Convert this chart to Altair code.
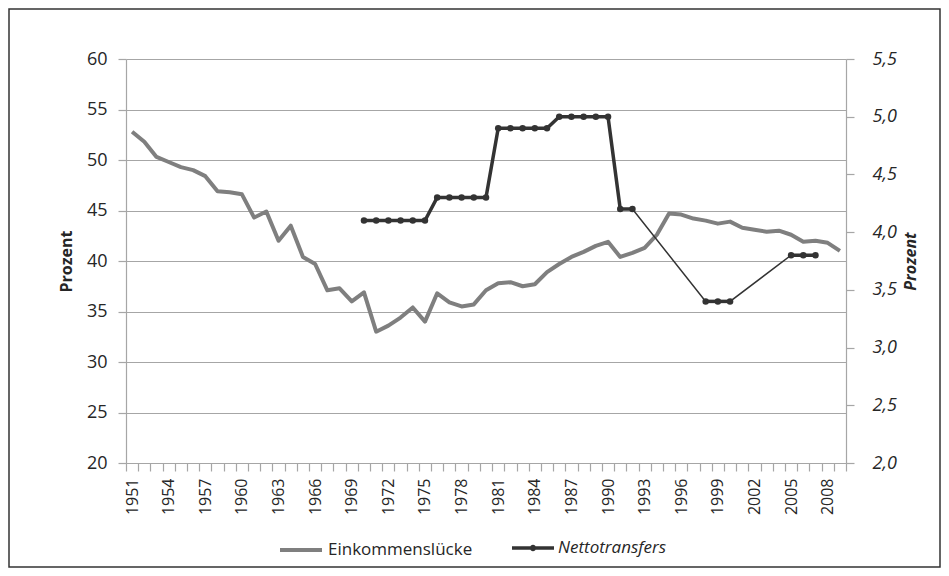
import altair as alt
import pandas as pd

# ---- data -------------------------------------------------------------
years = list(range(1951, 2010))

einkommen = [
    52.8, 51.8, 50.3, 49.8, 49.3, 49.0, 48.4, 46.9, 46.8, 46.6,   # 1951-1960
    44.3, 44.9, 42.0, 43.5, 40.4, 39.7, 37.1, 37.3, 36.0, 36.9,   # 1961-1970
    33.0, 33.6, 34.4, 35.4, 34.0, 36.8, 35.9, 35.5, 35.7, 37.1,   # 1971-1980
    37.8, 37.9, 37.5, 37.7, 38.9, 39.7, 40.4, 40.9, 41.5, 41.9,   # 1981-1990
    40.4, 40.8, 41.3, 42.6, 44.7, 44.6, 44.2, 44.0, 43.7, 43.9,   # 1991-2000
    43.3, 43.1, 42.9, 43.0, 42.6, 41.9, 42.0, 41.8, 41.0,         # 2001-2009
]

netto_years = [1970, 1971, 1972, 1973, 1974, 1975,
               1976, 1977, 1978, 1979, 1980,
               1981, 1982, 1983, 1984, 1985,
               1986, 1987, 1988, 1989, 1990,
               1991, 1992,
               1998, 1999, 2000,
               2005, 2006, 2007]
netto_values = [4.1, 4.1, 4.1, 4.1, 4.1, 4.1,
                4.3, 4.3, 4.3, 4.3, 4.3,
                4.9, 4.9, 4.9, 4.9, 4.9,
                5.0, 5.0, 5.0, 5.0, 5.0,
                4.2, 4.2,
                3.4, 3.4, 3.4,
                3.8, 3.8, 3.8]
netto_segment = [1] * 23 + [2] * 3 + [3] * 3

left_ticks = [20, 25, 30, 35, 40, 45, 50, 55, 60]
right_ticks = [2.0, 2.5, 3.0, 3.5, 4.0, 4.5, 5.0, 5.5]

series_names = ["Einkommenslücke", "Nettotransfers"]

df_e = pd.DataFrame({"Jahr": years, "Wert": einkommen, "Reihe": series_names[0]})
df_n = pd.DataFrame({"Jahr": netto_years, "Wert": netto_values,
                     "Segment": netto_segment, "Reihe": series_names[1]})

FONT = "Open Sans"
AXIS_GREY = "#a6a6a6"
TEXT = "#262626"
GREY = "#7f7f7f"
DARK = "#333333"

W, H = 720, 404
PAD = {"left": 118, "top": 51, "right": 95, "bottom": 105}

x_enc = alt.X(
    "Jahr:O",
    scale=alt.Scale(type="band", domain=years, paddingInner=0, paddingOuter=0),
    bandPosition=0.5,
    axis=alt.Axis(
        title=None,
        labelAngle=270,
        labelExpr="(datum.value - 1951) % 3 == 0 ? datum.label : ''",
        labelOverlap=False,
        tickBand="extent",
        tickSize=8,
        labelPadding=7,
        labelFontSize=16,
        grid=False,
    ),
)

y_left = alt.Y(
    "Wert:Q",
    scale=alt.Scale(domain=[20, 60], nice=False, zero=False),
    axis=alt.Axis(
        title="Prozent",
        values=left_ticks,
        grid=True,
        gridColor=AXIS_GREY,
        tickSize=8,
        labelPadding=11,
        labelFontSize=18,
        titleFontSize=16,
        titleFontWeight="bold",
        titlePadding=12,
    ),
)

right_scale = alt.Scale(domain=[2, 5.5], nice=False, zero=False)

y_right_axis = alt.Y(
    "Wert:Q",
    scale=right_scale,
    axis=alt.Axis(
        orient="right",
        title="Prozent",
        values=right_ticks,
        labelExpr="replace(format(datum.value, '.1f'), '.', ',')",
        grid=False,
        tickSize=8,
        labelPadding=18,
        labelFontSize=18,
        labelFontStyle="italic",
        titleFontSize=16,
        titleFontWeight="bold",
        titleFontStyle="italic",
        titleAngle=270,
        titlePadding=22,
    ),
)
y_right_plain = alt.Y("Wert:Q", scale=right_scale, axis=None)

frame = alt.Chart(pd.DataFrame({"f": [0]})).mark_rect(
    fill=None, stroke=DARK, strokeWidth=1.5
).encode(
    x=alt.value(-117), x2=alt.value(W + 94),
    y=alt.value(-50), y2=alt.value(H + 104),
)

grey_line = alt.Chart(df_e).mark_line(strokeWidth=4, strokeJoin="round").encode(
    x=x_enc,
    y=y_left,
    color=alt.Color(
        "Reihe:N",
        scale=alt.Scale(domain=[series_names[0]], range=[GREY]),
        legend=alt.Legend(
            title=None, orient="none", legendX=152, legendY=468,
            symbolType="stroke", symbolSize=1764, symbolStrokeWidth=4,
            labelFontSize=17, labelOffset=4,
        ),
    ),
)

thin = alt.Chart(df_n).mark_line(strokeWidth=1.5, color=DARK).encode(
    x=x_enc, y=y_right_plain
)
thick = alt.Chart(df_n).mark_line(strokeWidth=3.5, color=DARK).encode(
    x=x_enc, y=y_right_plain, detail="Segment:N"
)
pts = alt.Chart(df_n).mark_circle(size=42, opacity=1).encode(
    x=x_enc,
    y=y_right_axis,
    color=alt.Color(
        "Reihe:N",
        scale=alt.Scale(domain=[series_names[1]], range=[DARK]),
        legend=alt.Legend(
            title=None, orient="none", legendX=386, legendY=468,
            symbolType="M-1,-0.08L1,-0.08L1,0.08L-1,0.08Z"
                       "M-0.15,0A0.15,0.15,0,1,1,0.15,0A0.15,0.15,0,1,1,-0.15,0Z",
            symbolSize=1764, symbolFillColor=DARK, symbolStrokeWidth=0,
            labelFontSize=17, labelFontStyle="italic", labelOffset=4,
        ),
    ),
)

chart = (
    alt.layer(frame, grey_line, thin, thick, pts)
    .resolve_scale(y="independent", color="independent")
    .properties(width=W, height=H, padding=PAD, background="white",
                autosize=alt.AutoSizeParams(type="none"))
    .configure_view(stroke=None)
    .configure_axis(
        labelFont=FONT, titleFont=FONT, labelColor=TEXT, titleColor=TEXT,
        domainColor=AXIS_GREY, tickColor=AXIS_GREY, domainWidth=1.2, tickWidth=1.2,
    )
    .configure_legend(labelFont=FONT, labelColor=TEXT)
)

chart.save("out.html", embed_options={"renderer": "svg", "actions": False})
